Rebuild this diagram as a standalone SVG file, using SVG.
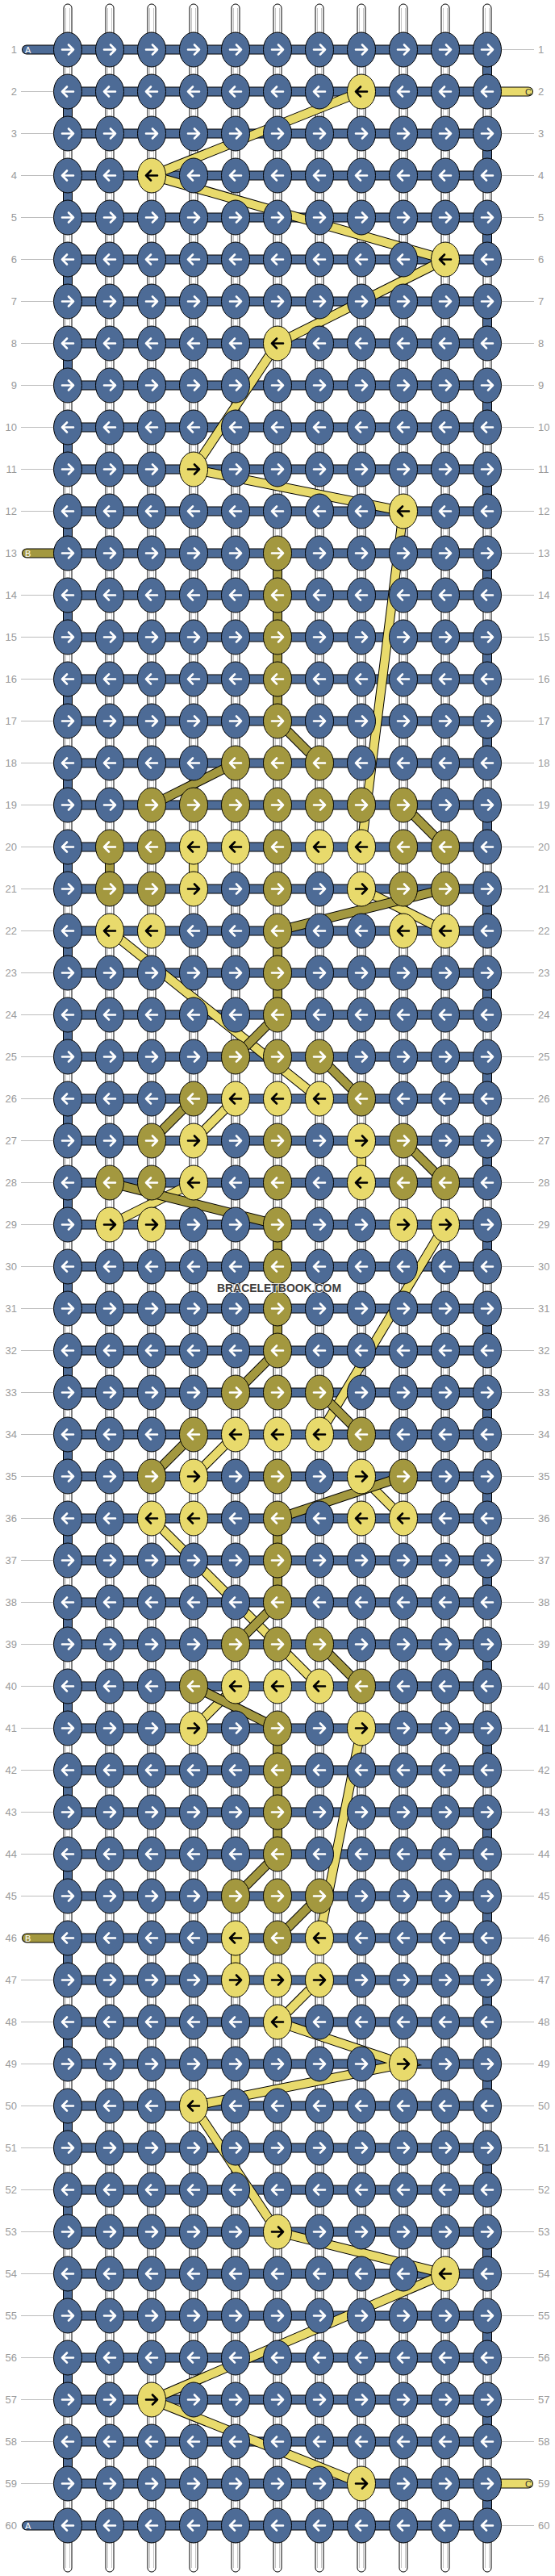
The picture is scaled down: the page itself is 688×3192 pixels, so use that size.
<svg xmlns="http://www.w3.org/2000/svg" xmlns:xlink="http://www.w3.org/1999/xlink" width="688" height="3192" viewBox="0 0 688 3192">
<style>
.ws{fill:#fff;stroke:#000;stroke-width:1}
.wl{stroke:#c4c4c4;stroke-width:1}
.so{fill:none;stroke:#000;stroke-width:12;stroke-linecap:round}
.sa{fill:none;stroke:#4d6b96;stroke-width:10;stroke-linecap:round}
.sb{fill:none;stroke:#a3983f;stroke-width:10;stroke-linecap:round}
.sc{fill:none;stroke:#e8da6c;stroke-width:10;stroke-linecap:round}
.aw{fill:none;stroke:#fff;stroke-width:2.6;stroke-linecap:round;stroke-linejoin:round}
.ak{fill:none;stroke:#000;stroke-width:2.6;stroke-linecap:round;stroke-linejoin:round}
.gl{stroke:#bdbdbd;stroke-width:1}
.ln{font-family:"Liberation Sans",Arial,sans-serif;font-size:13px;fill:#9a9a9a}
.le{text-anchor:end}
.sl{font-family:"Liberation Sans",Arial,sans-serif;font-size:11px}
</style>
<defs>
<g id="bR"><ellipse rx="17.5" ry="21.5" fill="#4d6b96" stroke="#000"/><path d="M-7,0H7M1,-6L7,0L1,6" class="aw"/></g>
<g id="bL"><ellipse rx="17.5" ry="21.5" fill="#4d6b96" stroke="#000"/><path d="M7,0H-7M-1,-6L-7,0L-1,6" class="aw"/></g>
<g id="oR"><ellipse rx="17.5" ry="21.5" fill="#a3983f" stroke="#000"/><path d="M-7,0H7M1,-6L7,0L1,6" class="aw"/></g>
<g id="oL"><ellipse rx="17.5" ry="21.5" fill="#a3983f" stroke="#000"/><path d="M7,0H-7M-1,-6L-7,0L-1,6" class="aw"/></g>
<g id="yR"><ellipse rx="17.5" ry="21.5" fill="#e8da6c" stroke="#000"/><path d="M-7,0H7M1,-6L7,0L1,6" class="ak"/></g>
<g id="yL"><ellipse rx="17.5" ry="21.5" fill="#e8da6c" stroke="#000"/><path d="M7,0H-7M-1,-6L-7,0L-1,6" class="ak"/></g>
<g id="vs"><rect x="-5" y="5" width="10" height="3182" rx="5" class="ws"/><path d="M-2.5,10V3182M2.5,10V3182" class="wl"/></g>
<path id="pathA" d="M33,61.5H604V113.5H84V165.5H604V217.5H84V269.5H604V321.5H84V373.5H604V425.5H84V477.5H604V529.5H84V581.5H604V633.5H84V685.5H604V737.5H84V789.5H604V841.5H84V893.5H604V945.5H84V997.5H604V1049.5H84V1101.5H604V1153.5H84V1205.5H604V1257.5H84V1309.5H604V1361.5H84V1413.5H604V1465.5H84V1517.5H604V1569.5H84V1621.5H604V1673.5H84V1725.5H604V1777.5H84V1829.5H604V1881.5H84V1933.5H604V1985.5H84V2037.5H604V2089.5H84V2141.5H604V2193.5H84V2245.5H604V2297.5H84V2349.5H604V2401.5H84V2453.5H604V2505.5H84V2557.5H604V2609.5H84V2661.5H604V2713.5H84V2765.5H604V2817.5H84V2869.5H604V2921.5H84V2973.5H604V3025.5H84V3077.5H604V3129.5H33"/>
<path id="pathC" d="M604,113.5H655M448,113.5L188,217.5L552,321.5L344,425.5L240,581.5L500,633.5L448,1049.5M240,1049.5V1101.5M448,1101.5L552,1153.5M136,1153.5L396,1361.5M292,1361.5L240,1413.5M448,1413.5V1465.5M240,1465.5L136,1517.5M552,1517.5L396,1777.5M292,1777.5L240,1829.5M448,1829.5L500,1881.5M188,1881.5L396,2089.5M292,2089.5L240,2141.5M448,2141.5L396,2401.5M292,2401.5V2453.5M396,2453.5L344,2505.5L500,2557.5L240,2609.5L344,2765.5L552,2817.5L188,2973.5L448,3077.5M604,3077.5H655"/>
<path id="pathB" d="M33,685.5H84M344,685.5V893.5L396,945.5M292,945.5L188,997.5M500,997.5L552,1049.5M136,1049.5V1101.5M552,1101.5L344,1153.5V1257.5L292,1309.5M396,1309.5L448,1361.5M240,1361.5L188,1413.5M500,1413.5L552,1465.5M136,1465.5L344,1517.5V1673.5L292,1725.5M396,1725.5L448,1777.5M240,1777.5L188,1829.5M500,1829.5L344,1881.5V1985.5L292,2037.5M396,2037.5L448,2089.5M240,2089.5L344,2141.5V2297.5L292,2349.5M396,2349.5L344,2401.5M84,2401.5H33"/>
</defs>
<rect width="688" height="3192" fill="#fff"/>
<g id="vertical-strings">
<use href="#vs" x="84"/><use href="#vs" x="136"/><use href="#vs" x="188"/><use href="#vs" x="240"/><use href="#vs" x="292"/><use href="#vs" x="344"/><use href="#vs" x="396"/><use href="#vs" x="448"/><use href="#vs" x="500"/><use href="#vs" x="552"/><use href="#vs" x="604"/>
</g>
<g id="connectors">
<g id="string-A"><use href="#pathA" class="so"/><use href="#pathA" class="sa"/></g>
<g id="string-C"><use href="#pathC" class="so"/><use href="#pathC" class="sc"/></g>
<g id="string-B"><use href="#pathB" class="so"/><use href="#pathB" class="sb"/></g>
</g>
<g id="string-labels">
<text x="31" y="65.5" class="sl" fill="#fff">A</text>
<text x="31" y="3133.5" class="sl" fill="#fff">A</text>
<text x="31" y="689.5" class="sl" fill="#fff">B</text>
<text x="31" y="2405.5" class="sl" fill="#fff">B</text>
<text x="651" y="117.5" class="sl" fill="#333">C</text>
<text x="651" y="3081.5" class="sl" fill="#333">C</text>
</g>
<g id="knots">
<g id="r1" transform="translate(0,61.5)"><g id="k1-1"><use href="#bR" x="84"/></g><g id="k1-2"><use href="#bR" x="136"/></g><g id="k1-3"><use href="#bR" x="188"/></g><g id="k1-4"><use href="#bR" x="240"/></g><g id="k1-5"><use href="#bR" x="292"/></g><g id="k1-6"><use href="#bR" x="344"/></g><g id="k1-7"><use href="#bR" x="396"/></g><g id="k1-8"><use href="#bR" x="448"/></g><g id="k1-9"><use href="#bR" x="500"/></g><g id="k1-10"><use href="#bR" x="552"/></g><g id="k1-11"><use href="#bR" x="604"/></g></g>
<g id="r2" transform="translate(0,113.5)"><g id="k2-1"><use href="#bL" x="84"/></g><g id="k2-2"><use href="#bL" x="136"/></g><g id="k2-3"><use href="#bL" x="188"/></g><g id="k2-4"><use href="#bL" x="240"/></g><g id="k2-5"><use href="#bL" x="292"/></g><g id="k2-6"><use href="#bL" x="344"/></g><g id="k2-7"><use href="#bL" x="396"/></g><g id="k2-8"><use href="#yL" x="448"/></g><g id="k2-9"><use href="#bL" x="500"/></g><g id="k2-10"><use href="#bL" x="552"/></g><g id="k2-11"><use href="#bL" x="604"/></g></g>
<g id="r3" transform="translate(0,165.5)"><g id="k3-1"><use href="#bR" x="84"/></g><g id="k3-2"><use href="#bR" x="136"/></g><g id="k3-3"><use href="#bR" x="188"/></g><g id="k3-4"><use href="#bR" x="240"/></g><g id="k3-5"><use href="#bR" x="292"/></g><g id="k3-6"><use href="#bR" x="344"/></g><g id="k3-7"><use href="#bR" x="396"/></g><g id="k3-8"><use href="#bR" x="448"/></g><g id="k3-9"><use href="#bR" x="500"/></g><g id="k3-10"><use href="#bR" x="552"/></g><g id="k3-11"><use href="#bR" x="604"/></g></g>
<g id="r4" transform="translate(0,217.5)"><g id="k4-1"><use href="#bL" x="84"/></g><g id="k4-2"><use href="#bL" x="136"/></g><g id="k4-3"><use href="#yL" x="188"/></g><g id="k4-4"><use href="#bL" x="240"/></g><g id="k4-5"><use href="#bL" x="292"/></g><g id="k4-6"><use href="#bL" x="344"/></g><g id="k4-7"><use href="#bL" x="396"/></g><g id="k4-8"><use href="#bL" x="448"/></g><g id="k4-9"><use href="#bL" x="500"/></g><g id="k4-10"><use href="#bL" x="552"/></g><g id="k4-11"><use href="#bL" x="604"/></g></g>
<g id="r5" transform="translate(0,269.5)"><g id="k5-1"><use href="#bR" x="84"/></g><g id="k5-2"><use href="#bR" x="136"/></g><g id="k5-3"><use href="#bR" x="188"/></g><g id="k5-4"><use href="#bR" x="240"/></g><g id="k5-5"><use href="#bR" x="292"/></g><g id="k5-6"><use href="#bR" x="344"/></g><g id="k5-7"><use href="#bR" x="396"/></g><g id="k5-8"><use href="#bR" x="448"/></g><g id="k5-9"><use href="#bR" x="500"/></g><g id="k5-10"><use href="#bR" x="552"/></g><g id="k5-11"><use href="#bR" x="604"/></g></g>
<g id="r6" transform="translate(0,321.5)"><g id="k6-1"><use href="#bL" x="84"/></g><g id="k6-2"><use href="#bL" x="136"/></g><g id="k6-3"><use href="#bL" x="188"/></g><g id="k6-4"><use href="#bL" x="240"/></g><g id="k6-5"><use href="#bL" x="292"/></g><g id="k6-6"><use href="#bL" x="344"/></g><g id="k6-7"><use href="#bL" x="396"/></g><g id="k6-8"><use href="#bL" x="448"/></g><g id="k6-9"><use href="#bL" x="500"/></g><g id="k6-10"><use href="#yL" x="552"/></g><g id="k6-11"><use href="#bL" x="604"/></g></g>
<g id="r7" transform="translate(0,373.5)"><g id="k7-1"><use href="#bR" x="84"/></g><g id="k7-2"><use href="#bR" x="136"/></g><g id="k7-3"><use href="#bR" x="188"/></g><g id="k7-4"><use href="#bR" x="240"/></g><g id="k7-5"><use href="#bR" x="292"/></g><g id="k7-6"><use href="#bR" x="344"/></g><g id="k7-7"><use href="#bR" x="396"/></g><g id="k7-8"><use href="#bR" x="448"/></g><g id="k7-9"><use href="#bR" x="500"/></g><g id="k7-10"><use href="#bR" x="552"/></g><g id="k7-11"><use href="#bR" x="604"/></g></g>
<g id="r8" transform="translate(0,425.5)"><g id="k8-1"><use href="#bL" x="84"/></g><g id="k8-2"><use href="#bL" x="136"/></g><g id="k8-3"><use href="#bL" x="188"/></g><g id="k8-4"><use href="#bL" x="240"/></g><g id="k8-5"><use href="#bL" x="292"/></g><g id="k8-6"><use href="#yL" x="344"/></g><g id="k8-7"><use href="#bL" x="396"/></g><g id="k8-8"><use href="#bL" x="448"/></g><g id="k8-9"><use href="#bL" x="500"/></g><g id="k8-10"><use href="#bL" x="552"/></g><g id="k8-11"><use href="#bL" x="604"/></g></g>
<g id="r9" transform="translate(0,477.5)"><g id="k9-1"><use href="#bR" x="84"/></g><g id="k9-2"><use href="#bR" x="136"/></g><g id="k9-3"><use href="#bR" x="188"/></g><g id="k9-4"><use href="#bR" x="240"/></g><g id="k9-5"><use href="#bR" x="292"/></g><g id="k9-6"><use href="#bR" x="344"/></g><g id="k9-7"><use href="#bR" x="396"/></g><g id="k9-8"><use href="#bR" x="448"/></g><g id="k9-9"><use href="#bR" x="500"/></g><g id="k9-10"><use href="#bR" x="552"/></g><g id="k9-11"><use href="#bR" x="604"/></g></g>
<g id="r10" transform="translate(0,529.5)"><g id="k10-1"><use href="#bL" x="84"/></g><g id="k10-2"><use href="#bL" x="136"/></g><g id="k10-3"><use href="#bL" x="188"/></g><g id="k10-4"><use href="#bL" x="240"/></g><g id="k10-5"><use href="#bL" x="292"/></g><g id="k10-6"><use href="#bL" x="344"/></g><g id="k10-7"><use href="#bL" x="396"/></g><g id="k10-8"><use href="#bL" x="448"/></g><g id="k10-9"><use href="#bL" x="500"/></g><g id="k10-10"><use href="#bL" x="552"/></g><g id="k10-11"><use href="#bL" x="604"/></g></g>
<g id="r11" transform="translate(0,581.5)"><g id="k11-1"><use href="#bR" x="84"/></g><g id="k11-2"><use href="#bR" x="136"/></g><g id="k11-3"><use href="#bR" x="188"/></g><g id="k11-4"><use href="#yR" x="240"/></g><g id="k11-5"><use href="#bR" x="292"/></g><g id="k11-6"><use href="#bR" x="344"/></g><g id="k11-7"><use href="#bR" x="396"/></g><g id="k11-8"><use href="#bR" x="448"/></g><g id="k11-9"><use href="#bR" x="500"/></g><g id="k11-10"><use href="#bR" x="552"/></g><g id="k11-11"><use href="#bR" x="604"/></g></g>
<g id="r12" transform="translate(0,633.5)"><g id="k12-1"><use href="#bL" x="84"/></g><g id="k12-2"><use href="#bL" x="136"/></g><g id="k12-3"><use href="#bL" x="188"/></g><g id="k12-4"><use href="#bL" x="240"/></g><g id="k12-5"><use href="#bL" x="292"/></g><g id="k12-6"><use href="#bL" x="344"/></g><g id="k12-7"><use href="#bL" x="396"/></g><g id="k12-8"><use href="#bL" x="448"/></g><g id="k12-9"><use href="#yL" x="500"/></g><g id="k12-10"><use href="#bL" x="552"/></g><g id="k12-11"><use href="#bL" x="604"/></g></g>
<g id="r13" transform="translate(0,685.5)"><g id="k13-1"><use href="#bR" x="84"/></g><g id="k13-2"><use href="#bR" x="136"/></g><g id="k13-3"><use href="#bR" x="188"/></g><g id="k13-4"><use href="#bR" x="240"/></g><g id="k13-5"><use href="#bR" x="292"/></g><g id="k13-6"><use href="#oR" x="344"/></g><g id="k13-7"><use href="#bR" x="396"/></g><g id="k13-8"><use href="#bR" x="448"/></g><g id="k13-9"><use href="#bR" x="500"/></g><g id="k13-10"><use href="#bR" x="552"/></g><g id="k13-11"><use href="#bR" x="604"/></g></g>
<g id="r14" transform="translate(0,737.5)"><g id="k14-1"><use href="#bL" x="84"/></g><g id="k14-2"><use href="#bL" x="136"/></g><g id="k14-3"><use href="#bL" x="188"/></g><g id="k14-4"><use href="#bL" x="240"/></g><g id="k14-5"><use href="#bL" x="292"/></g><g id="k14-6"><use href="#oL" x="344"/></g><g id="k14-7"><use href="#bL" x="396"/></g><g id="k14-8"><use href="#bL" x="448"/></g><g id="k14-9"><use href="#bL" x="500"/></g><g id="k14-10"><use href="#bL" x="552"/></g><g id="k14-11"><use href="#bL" x="604"/></g></g>
<g id="r15" transform="translate(0,789.5)"><g id="k15-1"><use href="#bR" x="84"/></g><g id="k15-2"><use href="#bR" x="136"/></g><g id="k15-3"><use href="#bR" x="188"/></g><g id="k15-4"><use href="#bR" x="240"/></g><g id="k15-5"><use href="#bR" x="292"/></g><g id="k15-6"><use href="#oR" x="344"/></g><g id="k15-7"><use href="#bR" x="396"/></g><g id="k15-8"><use href="#bR" x="448"/></g><g id="k15-9"><use href="#bR" x="500"/></g><g id="k15-10"><use href="#bR" x="552"/></g><g id="k15-11"><use href="#bR" x="604"/></g></g>
<g id="r16" transform="translate(0,841.5)"><g id="k16-1"><use href="#bL" x="84"/></g><g id="k16-2"><use href="#bL" x="136"/></g><g id="k16-3"><use href="#bL" x="188"/></g><g id="k16-4"><use href="#bL" x="240"/></g><g id="k16-5"><use href="#bL" x="292"/></g><g id="k16-6"><use href="#oL" x="344"/></g><g id="k16-7"><use href="#bL" x="396"/></g><g id="k16-8"><use href="#bL" x="448"/></g><g id="k16-9"><use href="#bL" x="500"/></g><g id="k16-10"><use href="#bL" x="552"/></g><g id="k16-11"><use href="#bL" x="604"/></g></g>
<g id="r17" transform="translate(0,893.5)"><g id="k17-1"><use href="#bR" x="84"/></g><g id="k17-2"><use href="#bR" x="136"/></g><g id="k17-3"><use href="#bR" x="188"/></g><g id="k17-4"><use href="#bR" x="240"/></g><g id="k17-5"><use href="#bR" x="292"/></g><g id="k17-6"><use href="#oR" x="344"/></g><g id="k17-7"><use href="#bR" x="396"/></g><g id="k17-8"><use href="#bR" x="448"/></g><g id="k17-9"><use href="#bR" x="500"/></g><g id="k17-10"><use href="#bR" x="552"/></g><g id="k17-11"><use href="#bR" x="604"/></g></g>
<g id="r18" transform="translate(0,945.5)"><g id="k18-1"><use href="#bL" x="84"/></g><g id="k18-2"><use href="#bL" x="136"/></g><g id="k18-3"><use href="#bL" x="188"/></g><g id="k18-4"><use href="#bL" x="240"/></g><g id="k18-5"><use href="#oL" x="292"/></g><g id="k18-6"><use href="#oL" x="344"/></g><g id="k18-7"><use href="#oL" x="396"/></g><g id="k18-8"><use href="#bL" x="448"/></g><g id="k18-9"><use href="#bL" x="500"/></g><g id="k18-10"><use href="#bL" x="552"/></g><g id="k18-11"><use href="#bL" x="604"/></g></g>
<g id="r19" transform="translate(0,997.5)"><g id="k19-1"><use href="#bR" x="84"/></g><g id="k19-2"><use href="#bR" x="136"/></g><g id="k19-3"><use href="#oR" x="188"/></g><g id="k19-4"><use href="#oR" x="240"/></g><g id="k19-5"><use href="#oR" x="292"/></g><g id="k19-6"><use href="#oR" x="344"/></g><g id="k19-7"><use href="#oR" x="396"/></g><g id="k19-8"><use href="#oR" x="448"/></g><g id="k19-9"><use href="#oR" x="500"/></g><g id="k19-10"><use href="#bR" x="552"/></g><g id="k19-11"><use href="#bR" x="604"/></g></g>
<g id="r20" transform="translate(0,1049.5)"><g id="k20-1"><use href="#bL" x="84"/></g><g id="k20-2"><use href="#oL" x="136"/></g><g id="k20-3"><use href="#oL" x="188"/></g><g id="k20-4"><use href="#yL" x="240"/></g><g id="k20-5"><use href="#yL" x="292"/></g><g id="k20-6"><use href="#oL" x="344"/></g><g id="k20-7"><use href="#yL" x="396"/></g><g id="k20-8"><use href="#yL" x="448"/></g><g id="k20-9"><use href="#oL" x="500"/></g><g id="k20-10"><use href="#oL" x="552"/></g><g id="k20-11"><use href="#bL" x="604"/></g></g>
<g id="r21" transform="translate(0,1101.5)"><g id="k21-1"><use href="#bR" x="84"/></g><g id="k21-2"><use href="#oR" x="136"/></g><g id="k21-3"><use href="#oR" x="188"/></g><g id="k21-4"><use href="#yR" x="240"/></g><g id="k21-5"><use href="#bR" x="292"/></g><g id="k21-6"><use href="#oR" x="344"/></g><g id="k21-7"><use href="#bR" x="396"/></g><g id="k21-8"><use href="#yR" x="448"/></g><g id="k21-9"><use href="#oR" x="500"/></g><g id="k21-10"><use href="#oR" x="552"/></g><g id="k21-11"><use href="#bR" x="604"/></g></g>
<g id="r22" transform="translate(0,1153.5)"><g id="k22-1"><use href="#bL" x="84"/></g><g id="k22-2"><use href="#yL" x="136"/></g><g id="k22-3"><use href="#yL" x="188"/></g><g id="k22-4"><use href="#bL" x="240"/></g><g id="k22-5"><use href="#bL" x="292"/></g><g id="k22-6"><use href="#oL" x="344"/></g><g id="k22-7"><use href="#bL" x="396"/></g><g id="k22-8"><use href="#bL" x="448"/></g><g id="k22-9"><use href="#yL" x="500"/></g><g id="k22-10"><use href="#yL" x="552"/></g><g id="k22-11"><use href="#bL" x="604"/></g></g>
<g id="r23" transform="translate(0,1205.5)"><g id="k23-1"><use href="#bR" x="84"/></g><g id="k23-2"><use href="#bR" x="136"/></g><g id="k23-3"><use href="#bR" x="188"/></g><g id="k23-4"><use href="#bR" x="240"/></g><g id="k23-5"><use href="#bR" x="292"/></g><g id="k23-6"><use href="#oR" x="344"/></g><g id="k23-7"><use href="#bR" x="396"/></g><g id="k23-8"><use href="#bR" x="448"/></g><g id="k23-9"><use href="#bR" x="500"/></g><g id="k23-10"><use href="#bR" x="552"/></g><g id="k23-11"><use href="#bR" x="604"/></g></g>
<g id="r24" transform="translate(0,1257.5)"><g id="k24-1"><use href="#bL" x="84"/></g><g id="k24-2"><use href="#bL" x="136"/></g><g id="k24-3"><use href="#bL" x="188"/></g><g id="k24-4"><use href="#bL" x="240"/></g><g id="k24-5"><use href="#bL" x="292"/></g><g id="k24-6"><use href="#oL" x="344"/></g><g id="k24-7"><use href="#bL" x="396"/></g><g id="k24-8"><use href="#bL" x="448"/></g><g id="k24-9"><use href="#bL" x="500"/></g><g id="k24-10"><use href="#bL" x="552"/></g><g id="k24-11"><use href="#bL" x="604"/></g></g>
<g id="r25" transform="translate(0,1309.5)"><g id="k25-1"><use href="#bR" x="84"/></g><g id="k25-2"><use href="#bR" x="136"/></g><g id="k25-3"><use href="#bR" x="188"/></g><g id="k25-4"><use href="#bR" x="240"/></g><g id="k25-5"><use href="#oR" x="292"/></g><g id="k25-6"><use href="#oR" x="344"/></g><g id="k25-7"><use href="#oR" x="396"/></g><g id="k25-8"><use href="#bR" x="448"/></g><g id="k25-9"><use href="#bR" x="500"/></g><g id="k25-10"><use href="#bR" x="552"/></g><g id="k25-11"><use href="#bR" x="604"/></g></g>
<g id="r26" transform="translate(0,1361.5)"><g id="k26-1"><use href="#bL" x="84"/></g><g id="k26-2"><use href="#bL" x="136"/></g><g id="k26-3"><use href="#bL" x="188"/></g><g id="k26-4"><use href="#oL" x="240"/></g><g id="k26-5"><use href="#yL" x="292"/></g><g id="k26-6"><use href="#yL" x="344"/></g><g id="k26-7"><use href="#yL" x="396"/></g><g id="k26-8"><use href="#oL" x="448"/></g><g id="k26-9"><use href="#bL" x="500"/></g><g id="k26-10"><use href="#bL" x="552"/></g><g id="k26-11"><use href="#bL" x="604"/></g></g>
<g id="r27" transform="translate(0,1413.5)"><g id="k27-1"><use href="#bR" x="84"/></g><g id="k27-2"><use href="#bR" x="136"/></g><g id="k27-3"><use href="#oR" x="188"/></g><g id="k27-4"><use href="#yR" x="240"/></g><g id="k27-5"><use href="#bR" x="292"/></g><g id="k27-6"><use href="#oR" x="344"/></g><g id="k27-7"><use href="#bR" x="396"/></g><g id="k27-8"><use href="#yR" x="448"/></g><g id="k27-9"><use href="#oR" x="500"/></g><g id="k27-10"><use href="#bR" x="552"/></g><g id="k27-11"><use href="#bR" x="604"/></g></g>
<g id="r28" transform="translate(0,1465.5)"><g id="k28-1"><use href="#bL" x="84"/></g><g id="k28-2"><use href="#oL" x="136"/></g><g id="k28-3"><use href="#oL" x="188"/></g><g id="k28-4"><use href="#yL" x="240"/></g><g id="k28-5"><use href="#bL" x="292"/></g><g id="k28-6"><use href="#oL" x="344"/></g><g id="k28-7"><use href="#bL" x="396"/></g><g id="k28-8"><use href="#yL" x="448"/></g><g id="k28-9"><use href="#oL" x="500"/></g><g id="k28-10"><use href="#oL" x="552"/></g><g id="k28-11"><use href="#bL" x="604"/></g></g>
<g id="r29" transform="translate(0,1517.5)"><g id="k29-1"><use href="#bR" x="84"/></g><g id="k29-2"><use href="#yR" x="136"/></g><g id="k29-3"><use href="#yR" x="188"/></g><g id="k29-4"><use href="#bR" x="240"/></g><g id="k29-5"><use href="#bR" x="292"/></g><g id="k29-6"><use href="#oR" x="344"/></g><g id="k29-7"><use href="#bR" x="396"/></g><g id="k29-8"><use href="#bR" x="448"/></g><g id="k29-9"><use href="#yR" x="500"/></g><g id="k29-10"><use href="#yR" x="552"/></g><g id="k29-11"><use href="#bR" x="604"/></g></g>
<g id="r30" transform="translate(0,1569.5)"><g id="k30-1"><use href="#bL" x="84"/></g><g id="k30-2"><use href="#bL" x="136"/></g><g id="k30-3"><use href="#bL" x="188"/></g><g id="k30-4"><use href="#bL" x="240"/></g><g id="k30-5"><use href="#bL" x="292"/></g><g id="k30-6"><use href="#oL" x="344"/></g><g id="k30-7"><use href="#bL" x="396"/></g><g id="k30-8"><use href="#bL" x="448"/></g><g id="k30-9"><use href="#bL" x="500"/></g><g id="k30-10"><use href="#bL" x="552"/></g><g id="k30-11"><use href="#bL" x="604"/></g></g>
<g id="r31" transform="translate(0,1621.5)"><g id="k31-1"><use href="#bR" x="84"/></g><g id="k31-2"><use href="#bR" x="136"/></g><g id="k31-3"><use href="#bR" x="188"/></g><g id="k31-4"><use href="#bR" x="240"/></g><g id="k31-5"><use href="#bR" x="292"/></g><g id="k31-6"><use href="#oR" x="344"/></g><g id="k31-7"><use href="#bR" x="396"/></g><g id="k31-8"><use href="#bR" x="448"/></g><g id="k31-9"><use href="#bR" x="500"/></g><g id="k31-10"><use href="#bR" x="552"/></g><g id="k31-11"><use href="#bR" x="604"/></g></g>
<g id="r32" transform="translate(0,1673.5)"><g id="k32-1"><use href="#bL" x="84"/></g><g id="k32-2"><use href="#bL" x="136"/></g><g id="k32-3"><use href="#bL" x="188"/></g><g id="k32-4"><use href="#bL" x="240"/></g><g id="k32-5"><use href="#bL" x="292"/></g><g id="k32-6"><use href="#oL" x="344"/></g><g id="k32-7"><use href="#bL" x="396"/></g><g id="k32-8"><use href="#bL" x="448"/></g><g id="k32-9"><use href="#bL" x="500"/></g><g id="k32-10"><use href="#bL" x="552"/></g><g id="k32-11"><use href="#bL" x="604"/></g></g>
<g id="r33" transform="translate(0,1725.5)"><g id="k33-1"><use href="#bR" x="84"/></g><g id="k33-2"><use href="#bR" x="136"/></g><g id="k33-3"><use href="#bR" x="188"/></g><g id="k33-4"><use href="#bR" x="240"/></g><g id="k33-5"><use href="#oR" x="292"/></g><g id="k33-6"><use href="#oR" x="344"/></g><g id="k33-7"><use href="#oR" x="396"/></g><g id="k33-8"><use href="#bR" x="448"/></g><g id="k33-9"><use href="#bR" x="500"/></g><g id="k33-10"><use href="#bR" x="552"/></g><g id="k33-11"><use href="#bR" x="604"/></g></g>
<g id="r34" transform="translate(0,1777.5)"><g id="k34-1"><use href="#bL" x="84"/></g><g id="k34-2"><use href="#bL" x="136"/></g><g id="k34-3"><use href="#bL" x="188"/></g><g id="k34-4"><use href="#oL" x="240"/></g><g id="k34-5"><use href="#yL" x="292"/></g><g id="k34-6"><use href="#yL" x="344"/></g><g id="k34-7"><use href="#yL" x="396"/></g><g id="k34-8"><use href="#oL" x="448"/></g><g id="k34-9"><use href="#bL" x="500"/></g><g id="k34-10"><use href="#bL" x="552"/></g><g id="k34-11"><use href="#bL" x="604"/></g></g>
<g id="r35" transform="translate(0,1829.5)"><g id="k35-1"><use href="#bR" x="84"/></g><g id="k35-2"><use href="#bR" x="136"/></g><g id="k35-3"><use href="#oR" x="188"/></g><g id="k35-4"><use href="#yR" x="240"/></g><g id="k35-5"><use href="#bR" x="292"/></g><g id="k35-6"><use href="#oR" x="344"/></g><g id="k35-7"><use href="#bR" x="396"/></g><g id="k35-8"><use href="#yR" x="448"/></g><g id="k35-9"><use href="#oR" x="500"/></g><g id="k35-10"><use href="#bR" x="552"/></g><g id="k35-11"><use href="#bR" x="604"/></g></g>
<g id="r36" transform="translate(0,1881.5)"><g id="k36-1"><use href="#bL" x="84"/></g><g id="k36-2"><use href="#bL" x="136"/></g><g id="k36-3"><use href="#yL" x="188"/></g><g id="k36-4"><use href="#yL" x="240"/></g><g id="k36-5"><use href="#bL" x="292"/></g><g id="k36-6"><use href="#oL" x="344"/></g><g id="k36-7"><use href="#bL" x="396"/></g><g id="k36-8"><use href="#yL" x="448"/></g><g id="k36-9"><use href="#yL" x="500"/></g><g id="k36-10"><use href="#bL" x="552"/></g><g id="k36-11"><use href="#bL" x="604"/></g></g>
<g id="r37" transform="translate(0,1933.5)"><g id="k37-1"><use href="#bR" x="84"/></g><g id="k37-2"><use href="#bR" x="136"/></g><g id="k37-3"><use href="#bR" x="188"/></g><g id="k37-4"><use href="#bR" x="240"/></g><g id="k37-5"><use href="#bR" x="292"/></g><g id="k37-6"><use href="#oR" x="344"/></g><g id="k37-7"><use href="#bR" x="396"/></g><g id="k37-8"><use href="#bR" x="448"/></g><g id="k37-9"><use href="#bR" x="500"/></g><g id="k37-10"><use href="#bR" x="552"/></g><g id="k37-11"><use href="#bR" x="604"/></g></g>
<g id="r38" transform="translate(0,1985.5)"><g id="k38-1"><use href="#bL" x="84"/></g><g id="k38-2"><use href="#bL" x="136"/></g><g id="k38-3"><use href="#bL" x="188"/></g><g id="k38-4"><use href="#bL" x="240"/></g><g id="k38-5"><use href="#bL" x="292"/></g><g id="k38-6"><use href="#oL" x="344"/></g><g id="k38-7"><use href="#bL" x="396"/></g><g id="k38-8"><use href="#bL" x="448"/></g><g id="k38-9"><use href="#bL" x="500"/></g><g id="k38-10"><use href="#bL" x="552"/></g><g id="k38-11"><use href="#bL" x="604"/></g></g>
<g id="r39" transform="translate(0,2037.5)"><g id="k39-1"><use href="#bR" x="84"/></g><g id="k39-2"><use href="#bR" x="136"/></g><g id="k39-3"><use href="#bR" x="188"/></g><g id="k39-4"><use href="#bR" x="240"/></g><g id="k39-5"><use href="#oR" x="292"/></g><g id="k39-6"><use href="#oR" x="344"/></g><g id="k39-7"><use href="#oR" x="396"/></g><g id="k39-8"><use href="#bR" x="448"/></g><g id="k39-9"><use href="#bR" x="500"/></g><g id="k39-10"><use href="#bR" x="552"/></g><g id="k39-11"><use href="#bR" x="604"/></g></g>
<g id="r40" transform="translate(0,2089.5)"><g id="k40-1"><use href="#bL" x="84"/></g><g id="k40-2"><use href="#bL" x="136"/></g><g id="k40-3"><use href="#bL" x="188"/></g><g id="k40-4"><use href="#oL" x="240"/></g><g id="k40-5"><use href="#yL" x="292"/></g><g id="k40-6"><use href="#yL" x="344"/></g><g id="k40-7"><use href="#yL" x="396"/></g><g id="k40-8"><use href="#oL" x="448"/></g><g id="k40-9"><use href="#bL" x="500"/></g><g id="k40-10"><use href="#bL" x="552"/></g><g id="k40-11"><use href="#bL" x="604"/></g></g>
<g id="r41" transform="translate(0,2141.5)"><g id="k41-1"><use href="#bR" x="84"/></g><g id="k41-2"><use href="#bR" x="136"/></g><g id="k41-3"><use href="#bR" x="188"/></g><g id="k41-4"><use href="#yR" x="240"/></g><g id="k41-5"><use href="#bR" x="292"/></g><g id="k41-6"><use href="#oR" x="344"/></g><g id="k41-7"><use href="#bR" x="396"/></g><g id="k41-8"><use href="#yR" x="448"/></g><g id="k41-9"><use href="#bR" x="500"/></g><g id="k41-10"><use href="#bR" x="552"/></g><g id="k41-11"><use href="#bR" x="604"/></g></g>
<g id="r42" transform="translate(0,2193.5)"><g id="k42-1"><use href="#bL" x="84"/></g><g id="k42-2"><use href="#bL" x="136"/></g><g id="k42-3"><use href="#bL" x="188"/></g><g id="k42-4"><use href="#bL" x="240"/></g><g id="k42-5"><use href="#bL" x="292"/></g><g id="k42-6"><use href="#oL" x="344"/></g><g id="k42-7"><use href="#bL" x="396"/></g><g id="k42-8"><use href="#bL" x="448"/></g><g id="k42-9"><use href="#bL" x="500"/></g><g id="k42-10"><use href="#bL" x="552"/></g><g id="k42-11"><use href="#bL" x="604"/></g></g>
<g id="r43" transform="translate(0,2245.5)"><g id="k43-1"><use href="#bR" x="84"/></g><g id="k43-2"><use href="#bR" x="136"/></g><g id="k43-3"><use href="#bR" x="188"/></g><g id="k43-4"><use href="#bR" x="240"/></g><g id="k43-5"><use href="#bR" x="292"/></g><g id="k43-6"><use href="#oR" x="344"/></g><g id="k43-7"><use href="#bR" x="396"/></g><g id="k43-8"><use href="#bR" x="448"/></g><g id="k43-9"><use href="#bR" x="500"/></g><g id="k43-10"><use href="#bR" x="552"/></g><g id="k43-11"><use href="#bR" x="604"/></g></g>
<g id="r44" transform="translate(0,2297.5)"><g id="k44-1"><use href="#bL" x="84"/></g><g id="k44-2"><use href="#bL" x="136"/></g><g id="k44-3"><use href="#bL" x="188"/></g><g id="k44-4"><use href="#bL" x="240"/></g><g id="k44-5"><use href="#bL" x="292"/></g><g id="k44-6"><use href="#oL" x="344"/></g><g id="k44-7"><use href="#bL" x="396"/></g><g id="k44-8"><use href="#bL" x="448"/></g><g id="k44-9"><use href="#bL" x="500"/></g><g id="k44-10"><use href="#bL" x="552"/></g><g id="k44-11"><use href="#bL" x="604"/></g></g>
<g id="r45" transform="translate(0,2349.5)"><g id="k45-1"><use href="#bR" x="84"/></g><g id="k45-2"><use href="#bR" x="136"/></g><g id="k45-3"><use href="#bR" x="188"/></g><g id="k45-4"><use href="#bR" x="240"/></g><g id="k45-5"><use href="#oR" x="292"/></g><g id="k45-6"><use href="#oR" x="344"/></g><g id="k45-7"><use href="#oR" x="396"/></g><g id="k45-8"><use href="#bR" x="448"/></g><g id="k45-9"><use href="#bR" x="500"/></g><g id="k45-10"><use href="#bR" x="552"/></g><g id="k45-11"><use href="#bR" x="604"/></g></g>
<g id="r46" transform="translate(0,2401.5)"><g id="k46-1"><use href="#bL" x="84"/></g><g id="k46-2"><use href="#bL" x="136"/></g><g id="k46-3"><use href="#bL" x="188"/></g><g id="k46-4"><use href="#bL" x="240"/></g><g id="k46-5"><use href="#yL" x="292"/></g><g id="k46-6"><use href="#oL" x="344"/></g><g id="k46-7"><use href="#yL" x="396"/></g><g id="k46-8"><use href="#bL" x="448"/></g><g id="k46-9"><use href="#bL" x="500"/></g><g id="k46-10"><use href="#bL" x="552"/></g><g id="k46-11"><use href="#bL" x="604"/></g></g>
<g id="r47" transform="translate(0,2453.5)"><g id="k47-1"><use href="#bR" x="84"/></g><g id="k47-2"><use href="#bR" x="136"/></g><g id="k47-3"><use href="#bR" x="188"/></g><g id="k47-4"><use href="#bR" x="240"/></g><g id="k47-5"><use href="#yR" x="292"/></g><g id="k47-6"><use href="#yR" x="344"/></g><g id="k47-7"><use href="#yR" x="396"/></g><g id="k47-8"><use href="#bR" x="448"/></g><g id="k47-9"><use href="#bR" x="500"/></g><g id="k47-10"><use href="#bR" x="552"/></g><g id="k47-11"><use href="#bR" x="604"/></g></g>
<g id="r48" transform="translate(0,2505.5)"><g id="k48-1"><use href="#bL" x="84"/></g><g id="k48-2"><use href="#bL" x="136"/></g><g id="k48-3"><use href="#bL" x="188"/></g><g id="k48-4"><use href="#bL" x="240"/></g><g id="k48-5"><use href="#bL" x="292"/></g><g id="k48-6"><use href="#yL" x="344"/></g><g id="k48-7"><use href="#bL" x="396"/></g><g id="k48-8"><use href="#bL" x="448"/></g><g id="k48-9"><use href="#bL" x="500"/></g><g id="k48-10"><use href="#bL" x="552"/></g><g id="k48-11"><use href="#bL" x="604"/></g></g>
<g id="r49" transform="translate(0,2557.5)"><g id="k49-1"><use href="#bR" x="84"/></g><g id="k49-2"><use href="#bR" x="136"/></g><g id="k49-3"><use href="#bR" x="188"/></g><g id="k49-4"><use href="#bR" x="240"/></g><g id="k49-5"><use href="#bR" x="292"/></g><g id="k49-6"><use href="#bR" x="344"/></g><g id="k49-7"><use href="#bR" x="396"/></g><g id="k49-8"><use href="#bR" x="448"/></g><g id="k49-9"><use href="#yR" x="500"/></g><g id="k49-10"><use href="#bR" x="552"/></g><g id="k49-11"><use href="#bR" x="604"/></g></g>
<g id="r50" transform="translate(0,2609.5)"><g id="k50-1"><use href="#bL" x="84"/></g><g id="k50-2"><use href="#bL" x="136"/></g><g id="k50-3"><use href="#bL" x="188"/></g><g id="k50-4"><use href="#yL" x="240"/></g><g id="k50-5"><use href="#bL" x="292"/></g><g id="k50-6"><use href="#bL" x="344"/></g><g id="k50-7"><use href="#bL" x="396"/></g><g id="k50-8"><use href="#bL" x="448"/></g><g id="k50-9"><use href="#bL" x="500"/></g><g id="k50-10"><use href="#bL" x="552"/></g><g id="k50-11"><use href="#bL" x="604"/></g></g>
<g id="r51" transform="translate(0,2661.5)"><g id="k51-1"><use href="#bR" x="84"/></g><g id="k51-2"><use href="#bR" x="136"/></g><g id="k51-3"><use href="#bR" x="188"/></g><g id="k51-4"><use href="#bR" x="240"/></g><g id="k51-5"><use href="#bR" x="292"/></g><g id="k51-6"><use href="#bR" x="344"/></g><g id="k51-7"><use href="#bR" x="396"/></g><g id="k51-8"><use href="#bR" x="448"/></g><g id="k51-9"><use href="#bR" x="500"/></g><g id="k51-10"><use href="#bR" x="552"/></g><g id="k51-11"><use href="#bR" x="604"/></g></g>
<g id="r52" transform="translate(0,2713.5)"><g id="k52-1"><use href="#bL" x="84"/></g><g id="k52-2"><use href="#bL" x="136"/></g><g id="k52-3"><use href="#bL" x="188"/></g><g id="k52-4"><use href="#bL" x="240"/></g><g id="k52-5"><use href="#bL" x="292"/></g><g id="k52-6"><use href="#bL" x="344"/></g><g id="k52-7"><use href="#bL" x="396"/></g><g id="k52-8"><use href="#bL" x="448"/></g><g id="k52-9"><use href="#bL" x="500"/></g><g id="k52-10"><use href="#bL" x="552"/></g><g id="k52-11"><use href="#bL" x="604"/></g></g>
<g id="r53" transform="translate(0,2765.5)"><g id="k53-1"><use href="#bR" x="84"/></g><g id="k53-2"><use href="#bR" x="136"/></g><g id="k53-3"><use href="#bR" x="188"/></g><g id="k53-4"><use href="#bR" x="240"/></g><g id="k53-5"><use href="#bR" x="292"/></g><g id="k53-6"><use href="#yR" x="344"/></g><g id="k53-7"><use href="#bR" x="396"/></g><g id="k53-8"><use href="#bR" x="448"/></g><g id="k53-9"><use href="#bR" x="500"/></g><g id="k53-10"><use href="#bR" x="552"/></g><g id="k53-11"><use href="#bR" x="604"/></g></g>
<g id="r54" transform="translate(0,2817.5)"><g id="k54-1"><use href="#bL" x="84"/></g><g id="k54-2"><use href="#bL" x="136"/></g><g id="k54-3"><use href="#bL" x="188"/></g><g id="k54-4"><use href="#bL" x="240"/></g><g id="k54-5"><use href="#bL" x="292"/></g><g id="k54-6"><use href="#bL" x="344"/></g><g id="k54-7"><use href="#bL" x="396"/></g><g id="k54-8"><use href="#bL" x="448"/></g><g id="k54-9"><use href="#bL" x="500"/></g><g id="k54-10"><use href="#yL" x="552"/></g><g id="k54-11"><use href="#bL" x="604"/></g></g>
<g id="r55" transform="translate(0,2869.5)"><g id="k55-1"><use href="#bR" x="84"/></g><g id="k55-2"><use href="#bR" x="136"/></g><g id="k55-3"><use href="#bR" x="188"/></g><g id="k55-4"><use href="#bR" x="240"/></g><g id="k55-5"><use href="#bR" x="292"/></g><g id="k55-6"><use href="#bR" x="344"/></g><g id="k55-7"><use href="#bR" x="396"/></g><g id="k55-8"><use href="#bR" x="448"/></g><g id="k55-9"><use href="#bR" x="500"/></g><g id="k55-10"><use href="#bR" x="552"/></g><g id="k55-11"><use href="#bR" x="604"/></g></g>
<g id="r56" transform="translate(0,2921.5)"><g id="k56-1"><use href="#bL" x="84"/></g><g id="k56-2"><use href="#bL" x="136"/></g><g id="k56-3"><use href="#bL" x="188"/></g><g id="k56-4"><use href="#bL" x="240"/></g><g id="k56-5"><use href="#bL" x="292"/></g><g id="k56-6"><use href="#bL" x="344"/></g><g id="k56-7"><use href="#bL" x="396"/></g><g id="k56-8"><use href="#bL" x="448"/></g><g id="k56-9"><use href="#bL" x="500"/></g><g id="k56-10"><use href="#bL" x="552"/></g><g id="k56-11"><use href="#bL" x="604"/></g></g>
<g id="r57" transform="translate(0,2973.5)"><g id="k57-1"><use href="#bR" x="84"/></g><g id="k57-2"><use href="#bR" x="136"/></g><g id="k57-3"><use href="#yR" x="188"/></g><g id="k57-4"><use href="#bR" x="240"/></g><g id="k57-5"><use href="#bR" x="292"/></g><g id="k57-6"><use href="#bR" x="344"/></g><g id="k57-7"><use href="#bR" x="396"/></g><g id="k57-8"><use href="#bR" x="448"/></g><g id="k57-9"><use href="#bR" x="500"/></g><g id="k57-10"><use href="#bR" x="552"/></g><g id="k57-11"><use href="#bR" x="604"/></g></g>
<g id="r58" transform="translate(0,3025.5)"><g id="k58-1"><use href="#bL" x="84"/></g><g id="k58-2"><use href="#bL" x="136"/></g><g id="k58-3"><use href="#bL" x="188"/></g><g id="k58-4"><use href="#bL" x="240"/></g><g id="k58-5"><use href="#bL" x="292"/></g><g id="k58-6"><use href="#bL" x="344"/></g><g id="k58-7"><use href="#bL" x="396"/></g><g id="k58-8"><use href="#bL" x="448"/></g><g id="k58-9"><use href="#bL" x="500"/></g><g id="k58-10"><use href="#bL" x="552"/></g><g id="k58-11"><use href="#bL" x="604"/></g></g>
<g id="r59" transform="translate(0,3077.5)"><g id="k59-1"><use href="#bR" x="84"/></g><g id="k59-2"><use href="#bR" x="136"/></g><g id="k59-3"><use href="#bR" x="188"/></g><g id="k59-4"><use href="#bR" x="240"/></g><g id="k59-5"><use href="#bR" x="292"/></g><g id="k59-6"><use href="#bR" x="344"/></g><g id="k59-7"><use href="#bR" x="396"/></g><g id="k59-8"><use href="#yR" x="448"/></g><g id="k59-9"><use href="#bR" x="500"/></g><g id="k59-10"><use href="#bR" x="552"/></g><g id="k59-11"><use href="#bR" x="604"/></g></g>
<g id="r60" transform="translate(0,3129.5)"><g id="k60-1"><use href="#bL" x="84"/></g><g id="k60-2"><use href="#bL" x="136"/></g><g id="k60-3"><use href="#bL" x="188"/></g><g id="k60-4"><use href="#bL" x="240"/></g><g id="k60-5"><use href="#bL" x="292"/></g><g id="k60-6"><use href="#bL" x="344"/></g><g id="k60-7"><use href="#bL" x="396"/></g><g id="k60-8"><use href="#bL" x="448"/></g><g id="k60-9"><use href="#bL" x="500"/></g><g id="k60-10"><use href="#bL" x="552"/></g><g id="k60-11"><use href="#bL" x="604"/></g></g>
</g>
<g id="row-lines" class="gl">
<path d="M26,113.5H66M26,165.5H66M26,217.5H66M26,269.5H66M26,321.5H66M26,373.5H66M26,425.5H66M26,477.5H66M26,529.5H66M26,581.5H66M26,633.5H66M26,737.5H66M26,789.5H66M26,841.5H66M26,893.5H66M26,945.5H66M26,997.5H66M26,1049.5H66M26,1101.5H66M26,1153.5H66M26,1205.5H66M26,1257.5H66M26,1309.5H66M26,1361.5H66M26,1413.5H66M26,1465.5H66M26,1517.5H66M26,1569.5H66M26,1621.5H66M26,1673.5H66M26,1725.5H66M26,1777.5H66M26,1829.5H66M26,1881.5H66M26,1933.5H66M26,1985.5H66M26,2037.5H66M26,2089.5H66M26,2141.5H66M26,2193.5H66M26,2245.5H66M26,2297.5H66M26,2349.5H66M26,2453.5H66M26,2505.5H66M26,2557.5H66M26,2609.5H66M26,2661.5H66M26,2713.5H66M26,2765.5H66M26,2817.5H66M26,2869.5H66M26,2921.5H66M26,2973.5H66M26,3025.5H66M26,3077.5H66"/>
<path d="M622,61.5H662M622,165.5H662M622,217.5H662M622,269.5H662M622,321.5H662M622,373.5H662M622,425.5H662M622,477.5H662M622,529.5H662M622,581.5H662M622,633.5H662M622,685.5H662M622,737.5H662M622,789.5H662M622,841.5H662M622,893.5H662M622,945.5H662M622,997.5H662M622,1049.5H662M622,1101.5H662M622,1153.5H662M622,1205.5H662M622,1257.5H662M622,1309.5H662M622,1361.5H662M622,1413.5H662M622,1465.5H662M622,1517.5H662M622,1569.5H662M622,1621.5H662M622,1673.5H662M622,1725.5H662M622,1777.5H662M622,1829.5H662M622,1881.5H662M622,1933.5H662M622,1985.5H662M622,2037.5H662M622,2089.5H662M622,2141.5H662M622,2193.5H662M622,2245.5H662M622,2297.5H662M622,2349.5H662M622,2401.5H662M622,2453.5H662M622,2505.5H662M622,2557.5H662M622,2609.5H662M622,2661.5H662M622,2713.5H662M622,2765.5H662M622,2817.5H662M622,2869.5H662M622,2921.5H662M622,2973.5H662M622,3025.5H662M622,3129.5H662"/>
</g>
<g id="row-numbers-left" class="ln le">
<text x="21" y="66.2">1</text><text x="21" y="118.2">2</text><text x="21" y="170.2">3</text><text x="21" y="222.2">4</text><text x="21" y="274.2">5</text><text x="21" y="326.2">6</text><text x="21" y="378.2">7</text><text x="21" y="430.2">8</text><text x="21" y="482.2">9</text><text x="21" y="534.2">10</text>
<text x="21" y="586.2">11</text><text x="21" y="638.2">12</text><text x="21" y="690.2">13</text><text x="21" y="742.2">14</text><text x="21" y="794.2">15</text><text x="21" y="846.2">16</text><text x="21" y="898.2">17</text><text x="21" y="950.2">18</text><text x="21" y="1002.2">19</text><text x="21" y="1054.2">20</text>
<text x="21" y="1106.2">21</text><text x="21" y="1158.2">22</text><text x="21" y="1210.2">23</text><text x="21" y="1262.2">24</text><text x="21" y="1314.2">25</text><text x="21" y="1366.2">26</text><text x="21" y="1418.2">27</text><text x="21" y="1470.2">28</text><text x="21" y="1522.2">29</text><text x="21" y="1574.2">30</text>
<text x="21" y="1626.2">31</text><text x="21" y="1678.2">32</text><text x="21" y="1730.2">33</text><text x="21" y="1782.2">34</text><text x="21" y="1834.2">35</text><text x="21" y="1886.2">36</text><text x="21" y="1938.2">37</text><text x="21" y="1990.2">38</text><text x="21" y="2042.2">39</text><text x="21" y="2094.2">40</text>
<text x="21" y="2146.2">41</text><text x="21" y="2198.2">42</text><text x="21" y="2250.2">43</text><text x="21" y="2302.2">44</text><text x="21" y="2354.2">45</text><text x="21" y="2406.2">46</text><text x="21" y="2458.2">47</text><text x="21" y="2510.2">48</text><text x="21" y="2562.2">49</text><text x="21" y="2614.2">50</text>
<text x="21" y="2666.2">51</text><text x="21" y="2718.2">52</text><text x="21" y="2770.2">53</text><text x="21" y="2822.2">54</text><text x="21" y="2874.2">55</text><text x="21" y="2926.2">56</text><text x="21" y="2978.2">57</text><text x="21" y="3030.2">58</text><text x="21" y="3082.2">59</text><text x="21" y="3134.2">60</text>
</g>
<g id="row-numbers-right" class="ln">
<text x="667" y="66.2">1</text><text x="667" y="118.2">2</text><text x="667" y="170.2">3</text><text x="667" y="222.2">4</text><text x="667" y="274.2">5</text><text x="667" y="326.2">6</text><text x="667" y="378.2">7</text><text x="667" y="430.2">8</text><text x="667" y="482.2">9</text><text x="667" y="534.2">10</text>
<text x="667" y="586.2">11</text><text x="667" y="638.2">12</text><text x="667" y="690.2">13</text><text x="667" y="742.2">14</text><text x="667" y="794.2">15</text><text x="667" y="846.2">16</text><text x="667" y="898.2">17</text><text x="667" y="950.2">18</text><text x="667" y="1002.2">19</text><text x="667" y="1054.2">20</text>
<text x="667" y="1106.2">21</text><text x="667" y="1158.2">22</text><text x="667" y="1210.2">23</text><text x="667" y="1262.2">24</text><text x="667" y="1314.2">25</text><text x="667" y="1366.2">26</text><text x="667" y="1418.2">27</text><text x="667" y="1470.2">28</text><text x="667" y="1522.2">29</text><text x="667" y="1574.2">30</text>
<text x="667" y="1626.2">31</text><text x="667" y="1678.2">32</text><text x="667" y="1730.2">33</text><text x="667" y="1782.2">34</text><text x="667" y="1834.2">35</text><text x="667" y="1886.2">36</text><text x="667" y="1938.2">37</text><text x="667" y="1990.2">38</text><text x="667" y="2042.2">39</text><text x="667" y="2094.2">40</text>
<text x="667" y="2146.2">41</text><text x="667" y="2198.2">42</text><text x="667" y="2250.2">43</text><text x="667" y="2302.2">44</text><text x="667" y="2354.2">45</text><text x="667" y="2406.2">46</text><text x="667" y="2458.2">47</text><text x="667" y="2510.2">48</text><text x="667" y="2562.2">49</text><text x="667" y="2614.2">50</text>
<text x="667" y="2666.2">51</text><text x="667" y="2718.2">52</text><text x="667" y="2770.2">53</text><text x="667" y="2822.2">54</text><text x="667" y="2874.2">55</text><text x="667" y="2926.2">56</text><text x="667" y="2978.2">57</text><text x="667" y="3030.2">58</text><text x="667" y="3082.2">59</text><text x="667" y="3134.2">60</text>
</g>
<text id="watermark" x="346" y="1601" text-anchor="middle" font-family="'Liberation Sans',Arial,sans-serif" font-size="15" font-weight="bold" fill="#3c3c3c" stroke="#fff" stroke-width="1.5" paint-order="stroke" textLength="154" lengthAdjust="spacingAndGlyphs">BRACELETBOOK.COM</text>
</svg>
